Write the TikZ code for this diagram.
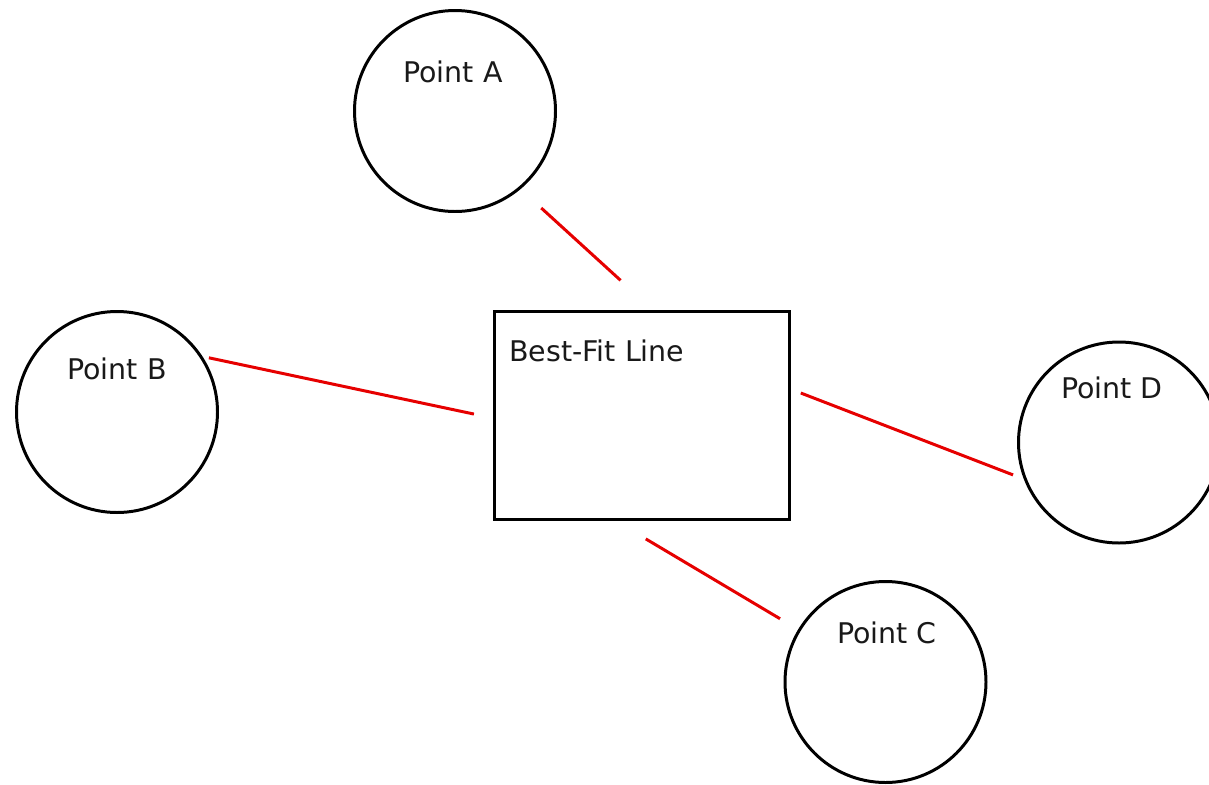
\documentclass[tikz,border=0pt]{standalone}
\usepackage{fontspec}
\setmainfont{DejaVu Sans}
\usepackage{xcolor}
\usepackage{tikz}
\usetikzlibrary{calc}
\definecolor{fitred}{HTML}{E60000}
\tikzset{
  pointnode/.style={draw=black, circle, line width=1.7pt, minimum size=4.02cm,
    inner sep=0pt, fill=white},
  fitbox/.style={draw=black, rectangle, line width=1.7pt, minimum width=5.90cm,
    minimum height=4.16cm, inner sep=0pt, fill=white},
  pointtext/.style={font=\fontsize{16.2pt}{19pt}\selectfont, inner sep=0pt,
    text=black!90},
  residual/.style={draw=fitred, line width=1.7pt}
}

\begin{document}
\begin{tikzpicture}
        \useasboundingbox (0,0) rectangle (24.18,-15.70);

        % the fitted line in the middle
        \node[fitbox, label={[pointtext, anchor=base west, xshift=0.32cm, yshift=-1.02cm]north west:Best-Fit Line}] (fit) at (12.84,-8.31) {};

        % the data points round it
        \node[pointnode, label={[pointtext, xshift=-0.04cm, yshift=0.78cm]center:Point A}] (ptA) at (9.10,-2.22) {};
        \node[pointnode, label={[pointtext, yshift=0.86cm]center:Point B}] (ptB) at (2.34,-8.24) {};
        \node[pointnode, label={[pointtext, xshift=0.03cm, yshift=0.98cm]center:Point C}] (ptC) at (17.71,-13.64) {};
        \node[pointnode, label={[pointtext, xshift=-0.14cm, yshift=1.09cm]center:Point D}] (ptD) at (22.38,-8.85) {};

        % residuals, kept short of both ends
        \draw[residual, shorten <=0.56cm, shorten >=0.88cm] (ptA.-50) -- (fit.84);
        \draw[residual, shorten <=0.13cm, shorten >=0.39cm] (ptB.33) -- (fit.181);
        \draw[residual, shorten <=0.70cm, shorten >=0.42cm] (fit.-104) -- (ptC.149);
        \draw[residual, shorten <=0.21cm, shorten >=0.23cm] (fit.10) -- (ptD.201);
    \end{tikzpicture}
\end{document}
